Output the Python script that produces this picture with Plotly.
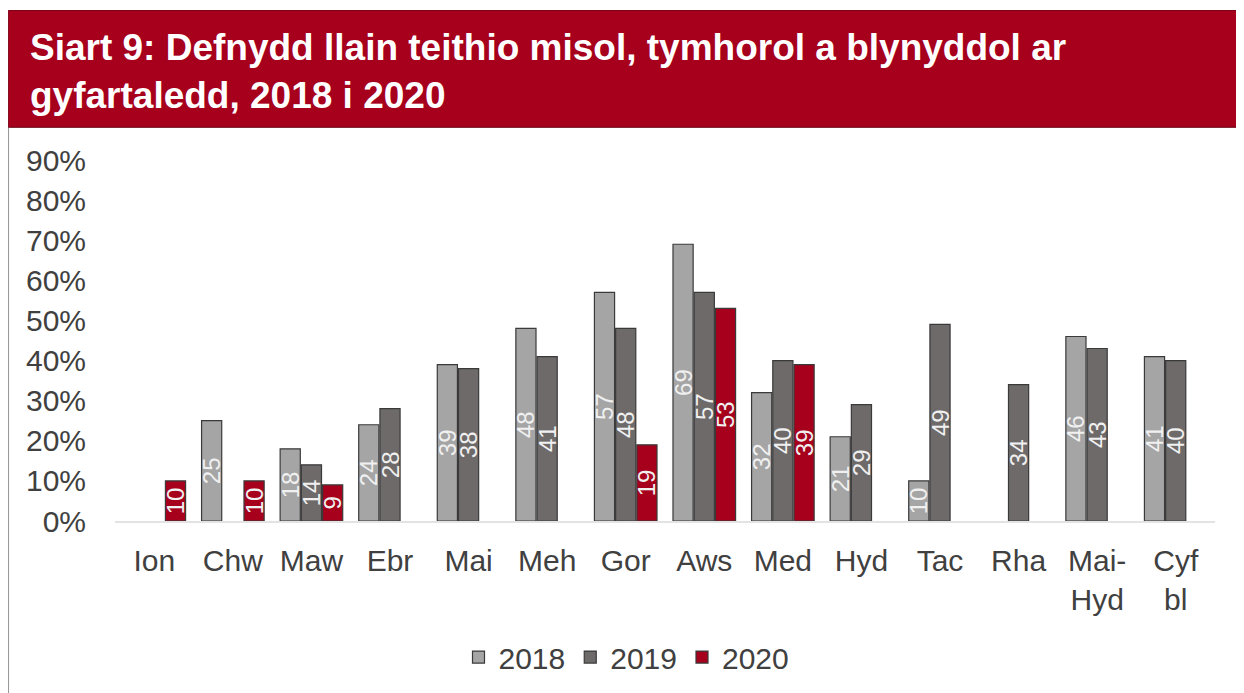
import plotly.graph_objects as go

months = ["Ion", "Chw", "Maw", "Ebr", "Mai", "Meh", "Gor", "Aws", "Med", "Hyd",
          "Tac", "Rha", "Mai-<br>Hyd", "Cyf<br>bl"]
use_2018 = [None, 25, 18, 24, 39, 48, 57, 69, 32, 21, 10, None, 46, 41]
use_2019 = [None, None, 14, 28, 38, 41, 48, 57, 40, 29, 49, 34, 43, 40]
use_2020 = [10, 10, 9, None, None, None, 19, 53, 39, None, None, None, None, None]

series = [("2018", use_2018, "#a5a5a5"),
          ("2019", use_2019, "#6e6a6a"),
          ("2020", use_2020, "#a6001d")]

fig = go.Figure()
for name, vals, col in series:
    fig.add_trace(go.Bar(
        x=months, y=vals, name=name,
        marker=dict(color=col, line=dict(color="#3a3a3a", width=1.2)),
        text=[str(v) if v is not None else "" for v in vals],
        textposition="inside", insidetextanchor="middle", textangle=-90,
        constraintext="none",
        textfont=dict(color="#f0f0f0", size=24, family="Liberation Sans"),
    ))

# frame + red title bar (paper coords, plot area is 1100 x 362 px)
fig.add_shape(type="rect", xref="paper", yref="paper",
              x0=-0.097, x1=1.02, y0=-0.6, y1=1.091,
              line=dict(color="#9a9a9a", width=1.5), fillcolor="rgba(0,0,0,0)", layer="below")
fig.add_shape(type="rect", xref="paper", yref="paper",
              x0=-0.097, x1=1.04, y0=1.091, y1=1.414,
              line=dict(color="#7a0015", width=1), fillcolor="#a6001d", layer="below")
title_font = dict(color="white", size=37, family="Liberation Sans")
fig.add_annotation(text="<b>Siart 9: Defnydd llain teithio misol, tymhorol a blynyddol ar</b>",
                   xref="paper", yref="paper", x=-0.079, y=1.312, xanchor="left", yanchor="middle",
                   showarrow=False, font=title_font)
fig.add_annotation(text="<b>gyfartaledd, 2018 i 2020</b>",
                   xref="paper", yref="paper", x=-0.079, y=1.180, xanchor="left", yanchor="middle",
                   showarrow=False, font=title_font)

fig.update_layout(
    width=1236, height=685,
    margin=dict(l=107, r=29, t=152, b=171),
    paper_bgcolor="white", plot_bgcolor="white",
    barmode="group", bargap=0.19, bargroupgap=0.05,
    font=dict(family="Liberation Sans", color="#404040", size=30),
    legend=dict(orientation="h", x=0.465, xanchor="center", y=-0.373, yanchor="middle",
                font=dict(size=30, color="#404040"), itemwidth=30),
    showlegend=True,
)
fig.update_xaxes(showgrid=False, showline=True, linecolor="#e3e3e3", linewidth=2,
                 ticks="", ticklabelstandoff=12, tickfont=dict(size=30, color="#404040"))
fig.update_yaxes(range=[0, 90], dtick=10, ticksuffix="%", showgrid=False, zeroline=False,
                 showline=False, ticks="", ticklabelstandoff=28,
                 tickfont=dict(size=30, color="#404040"))

fig.write_html("out.html")
